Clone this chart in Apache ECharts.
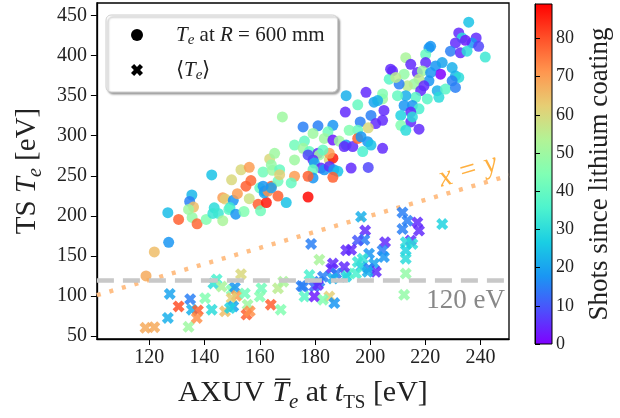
<!DOCTYPE html>
<html><head><meta charset="utf-8">
<script src="https://cdn.jsdelivr.net/npm/echarts@6/dist/echarts.min.js"></script>
<style>html,body{margin:0;padding:0;background:#fff}#c{width:620px;height:418px}</style>
</head><body><div id="c"></div>
<script>
// [AXUV Te, TS Te, shots since lithium coating]
const teR600 = [
[118.8,125,68],[121.8,155,65],[127,167,18],[126.7,204,24],[130.6,195.5,78],[135.5,198,48],[137.3,190,77],
[140.6,195.5,45],[143.5,210,30],[143,203,32],[145,203,33],[146.6,194,52],[135.4,226,23],[134.6,218,15],
[136,211,65],[134.2,208,50],[142.6,251,25],[149.8,245,60],[153.2,257.5,60],[156.2,260.5,70],[163.6,271,60],
[165.4,278,50],[161.2,254.7,42],[164.6,256.8,50],[156.8,244,77],[155,237,78],[160,235,40],[161.8,231,20],
[164.2,237,78],[146.6,222.6,70],[147.5,221,62],[150.4,219.3,18],[151.9,227.6,70],[149.2,210.3,33],[148.8,208,38],
[151.3,202,18],[154.3,205.4,45],[156.2,221.4,58],[159.4,214.4,78],[160.3,206.2,42],[162.4,216.5,86],[161.6,228.8,20],
[168.2,323.4,50],[169.6,216.5,25],[177.5,223.5,88],[166.6,243.2,42],[163,230.9,72],
[191.3,350,22],[198.5,354.2,5],[195.5,338.6,40],[201.4,341.9,20],[204.5,345.9,50],[205,331.5,5],[191,329.5,5],
[200.3,325.3,15],[204.5,319.2,5],[202,315.1,5],[196.4,317.2,15],[195.5,306.8,40],[199.3,309.8,60],[192.4,306.8,45],
[175.7,311,15],[181.1,312.3,15],[186.5,313,18],[179.3,302.8,50],[184.7,304.9,42],[172.6,288.3,42],[176.2,293.3,40],
[175.7,284.3,50],[178,280.2,40],[183.4,296.6,50],[186.5,294.5,3],[188.8,293.3,50],[191.3,288.3,18],[190.6,286.4,5],
[193.7,286.4,5],[195.5,296.6,78],[196.7,298.7,18],[199.1,292.5,18],[197.3,280.2,35],[200.3,288.3,25],[204.5,284.3,5],
[181.1,278.1,5],[181.6,276,50],[185.2,269.8,60],[186.5,271.9,86],[185.2,278.1,70],[182.9,282.2,40],[179.3,269.8,5],
[177.5,276,8],[179.8,265.8,22],[182.2,259.6,5],[183.4,257.5,18],[185.2,261.7,5],[186.8,257.5,18],[188.3,255.5,25],
[186.5,248.1,78],[193.1,259.6,5],[199.3,260.4,8],[179.3,257.5,40],[179.3,247.3,18],[177.5,249.4,78],[172.6,269.8,50],
[172.6,249.4,70],[171.4,241.1,40],[164.2,263.7,48],[167.2,257.5,40],[167.2,251.4,62],[164.2,235,20],[161.2,237,18],
[166.6,224.7,78],
[235.7,441.7,25],[232.1,428.2,5],[233.3,422,30],[238.4,422,5],[236.9,415.8,18],[239.3,411.6,8],[234.5,419,3],
[230.9,415.8,5],[229.1,405.5,15],[232.7,403.5,5],[235.1,405.5,30],[241.7,398.1,33],[221.3,409.7,18],[220.1,401.4,40],
[212.9,397.3,52],[214.7,389.1,5],[220.1,391.2,5],[223.7,387,18],[226.1,391.2,20],[225.5,376.8,0],[229.7,385,22],
[230.9,374.7,22],[232.1,372.7,30],[229.7,368.5,15],[208.1,380.8,5],[206.9,370.6,38],[212.3,376.8,48],[217.1,378.8,5],
[218.9,380.8,50],[221.9,378.8,18],[221.3,368.5,18],[217.7,370.6,55],[215.9,364.4,50],[213.5,362.3,55],[210.5,364.4,15],
[219.5,362.3,5],[218.3,356.2,5],[224.3,356.2,22],[227.3,358.2,38],[230.9,360.3,15],[224.9,348,30],[220.7,345.9,38],
[216.5,348,38],[212.9,350,22],[209.9,350,40],[204.5,352.1,45],[202.7,343.8,22],[212.3,337.7,18],[215.3,337.7,18],
[217.7,333.6,35],[214.7,329.5,5],[211.1,325.3,28],[214.7,317.2,5],[215.3,323.4,30],[211.1,313,45],[212.9,306.8,30],
[217.7,308.1,5],[207.4,383,5],[209.3,372.7,55],[221.9,411.6,18]
];
const teMean = [
[127.4,102.6,20],[134.8,96,15],[130.6,87,80],[126.7,72.6,22],[118.6,60.2,68],[121.8,61.1,68],[134.2,61.5,50],
[135.4,82.9,22],[137.6,82,78],[137.2,72.6,72],[140.2,97.2,45],[142.6,82.9,30],[143.2,115.7,30],[144.4,120.6,35],
[146.2,111.7,52],[149.8,107.6,45],[151,110.8,18],[151.6,100.2,70],[149.8,97.2,62],[150.4,87,20],[147.4,80.8,65],
[149.2,84.9,28],[153.2,127.2,60],[154.6,103.2,42],[155.6,89.1,50],[155.2,76.8,78],[156.4,80.8,72],[160.6,109.6,42],
[160,99.3,45],[164,89.1,78],[167.6,82.9,45],[166.6,109.6,55],[168.5,117.8,52],[175.1,112.5,15],
[178.6,165,15],[181.6,145.3,52],[196.7,198.8,22],[198.2,181.6,5],[197.9,170,15],[195.5,169.2,10],[193.1,157.7,5],
[191.3,156.9,5],[205.4,167.1,5],[204.5,156.9,15],[205,148.6,18],[199.6,152.7,18],[197.3,146.5,32],[196.7,136.3,25],
[194.9,128,35],[191.9,128,38],[191.3,124,28],[201.4,140.4,20],[199.6,134.2,15],[202.1,130.1,5],[199.1,130.1,22],
[186.5,140.4,5],[185.9,134.2,5],[190.6,136.3,5],[187.7,128,15],[186.5,121.9,22],[182.9,124,15],[181.6,117.8,15],
[178,126.1,35],[175.7,111.7,15],[179.8,111.7,12],[181.1,113.7,5],[176.2,99.3,38],[179.8,99.3,3],[185.2,99.3,62],
[187,91.1,18],[182.9,95.3,45],[195.5,142.5,32],
[211.7,204.3,15],[213.5,193.9,15],[217.1,191.8,5],[217.7,181.6,5],[211.7,183.5,15],[214.7,169.2,5],[212.9,167.1,30],
[215.3,165,30],[212.9,156.9,28],[212.9,146.5,30],[212.9,128,48],[212.3,101.4,48],[226.1,189.7,28]
];
const xTicks = [120,140,160,180,200,220,240];
const yTicks = [50,100,150,200,250,300,350,400,450];
const cbTicks = [0,10,20,30,40,50,60,70,80];
const thresholdEV = 120;
const identityEnds = [101, 250.3];

const rainbow = ['#8000ff','#4d4ffc','#1a96f3','#1acee3','#4df3ce','#80ffb4','#b2f396','#e6ce74','#ff964f','#ff4f28','#ff0000'];
const F = 'Liberation Serif';
const xPath = 'path://M0,2.6 L2.6,0 L5,2.4 L7.4,0 L10,2.6 L7.6,5 L10,7.4 L7.4,10 L5,7.6 L2.6,10 L0,7.4 L2.4,5 Z';
const chart = echarts.init(document.getElementById('c'), null, {renderer:'canvas'});
const gradStops = rainbow.map((c,i)=>({offset:1 - i/(rainbow.length-1), color:c}));

const richX = {
  i:{fontFamily:F, fontStyle:'italic', fontSize:30, color:'#222'},
  sub:{fontFamily:F, fontStyle:'italic', fontSize:21, color:'#222', verticalAlign:'bottom', lineHeight:40},
  subr:{fontFamily:F, fontSize:19, color:'#222', verticalAlign:'bottom', lineHeight:40}
};
const richY = {
  i:{fontFamily:F, fontStyle:'italic', fontSize:29, color:'#222'},
  sub:{fontFamily:F, fontStyle:'italic', fontSize:20, color:'#222', verticalAlign:'bottom', lineHeight:38}
};

chart.setOption({
  animation:false,
  grid:[
    {left:95, right:111, top:3, bottom:75, show:true, borderColor:'#000', borderWidth:1.3},
    {left:535, top:4, width:17, height:340, show:true, borderColor:'#000', borderWidth:1,
     backgroundColor:{type:'linear', x:0, y:0, x2:0, y2:1, colorStops:gradStops}}
  ],
  xAxis:[
    {type:'value', gridIndex:0, min:identityEnds[0], max:identityEnds[1],
     axisLine:{show:true, lineStyle:{color:'#000', width:1.3}},
     axisTick:{show:true, length:6, customValues:xTicks, lineStyle:{color:'#000', width:1}},
     axisLabel:{customValues:xTicks, fontFamily:F, fontSize:20, color:'#222', margin:9},
     splitLine:{show:false},
     name:'AXUV {i|T\u0305}{sub|e} at {i|t}{subr|TS} [eV]', nameLocation:'middle', nameGap:34,
     nameTextStyle:{fontFamily:F, fontSize:30, color:'#222', lineHeight:40, rich:richX}},
    {type:'value', gridIndex:1, show:false, min:0, max:1}
  ],
  yAxis:[
    {type:'value', gridIndex:0, min:46.3, max:465.6,
     axisLine:{show:true, lineStyle:{color:'#000', width:1.3}},
     axisTick:{show:true, length:6, customValues:yTicks, lineStyle:{color:'#000', width:1}},
     axisLabel:{customValues:yTicks, fontFamily:F, fontSize:20, color:'#222', margin:10},
     splitLine:{show:false},
     name:'TS {i|T}{sub|e} [eV]', nameLocation:'middle', nameGap:49, nameRotate:90,
     nameTextStyle:{fontFamily:F, fontSize:29, color:'#222', lineHeight:38, rich:richY}},
    {type:'value', gridIndex:1, position:'right', min:0, max:89,
     axisLine:{show:true, lineStyle:{color:'#000', width:1}},
     axisTick:{show:true, length:5, customValues:cbTicks, lineStyle:{color:'#000'}},
     axisLabel:{customValues:cbTicks, fontFamily:F, fontSize:18, color:'#222', margin:4},
     splitLine:{show:false},
     name:'Shots since lithium coating', nameLocation:'middle', nameGap:34, nameRotate:90,
     nameTextStyle:{fontFamily:F, fontSize:27, color:'#222'}}
  ],
  visualMap:{type:'continuous', show:false, min:0, max:89, dimension:2, seriesIndex:[0,1], inRange:{color:rainbow}},
  legend:{
    orient:'vertical', left:106, top:15, padding:[7,13,9,25], itemGap:9, itemWidth:12, itemHeight:12,
    backgroundColor:'#fff', borderColor:'#cfcfcf', borderWidth:1, borderRadius:5,
    shadowColor:'rgba(0,0,0,0.35)', shadowBlur:2, shadowOffsetX:2, shadowOffsetY:2,
    data:[
      {name:'Te600', icon:'circle', itemStyle:{color:'#000', opacity:1}},
      {name:'TeMean', icon:xPath, itemStyle:{color:'#000', opacity:1}}
    ],
    formatter:function(n){
      return n==='Te600' ? '{sp|}{i|T}{sub|e} at {i|R} = 600 mm' : '{sp|}\u27e8{i|T}{sub|e}\u27e9';
    },
    textStyle:{fontFamily:F, fontSize:21, color:'#222', lineHeight:24,
      rich:{sp:{width:28}, i:{fontFamily:F, fontStyle:'italic', fontSize:21, color:'#222'},
            sub:{fontFamily:F, fontStyle:'italic', fontSize:15, color:'#222', verticalAlign:'bottom', lineHeight:26}}}
  },
  series:[
    {name:'Te600', type:'scatter', xAxisIndex:0, yAxisIndex:0, symbol:'circle', symbolSize:11, z:4,
     itemStyle:{opacity:0.85}, data:teR600},
    {name:'TeMean', type:'scatter', xAxisIndex:0, yAxisIndex:0, symbol:xPath, symbolSize:12, z:4,
     itemStyle:{opacity:0.85}, data:teMean},
    {name:'identity', type:'line', xAxisIndex:0, yAxisIndex:0, symbol:'none', z:2, silent:true,
     data:identityEnds.map(v=>[v,v]),
     lineStyle:{color:'#ffbf86', width:4.5, type:[4,9], cap:'butt'},
     markLine:{silent:true, symbol:'none', label:{show:false},
       lineStyle:{color:'#c8c8c8', width:4.5, type:[17,9], cap:'butt'},
       data:[{yAxis:thresholdEV}]}}
  ],
  graphic:[
    {type:'text', right:115, top:287, z:10,
     style:{text:'120 eV', font:'27px "Liberation Serif"', fill:'#888'}},
    {type:'text', x:468, y:171, rotation:0.285, z:10,
     style:{text:'x = y', font:'italic 29px "Liberation Serif"', fill:'#ffb040', align:'center', verticalAlign:'middle'}}
  ]
});
</script></body></html>
